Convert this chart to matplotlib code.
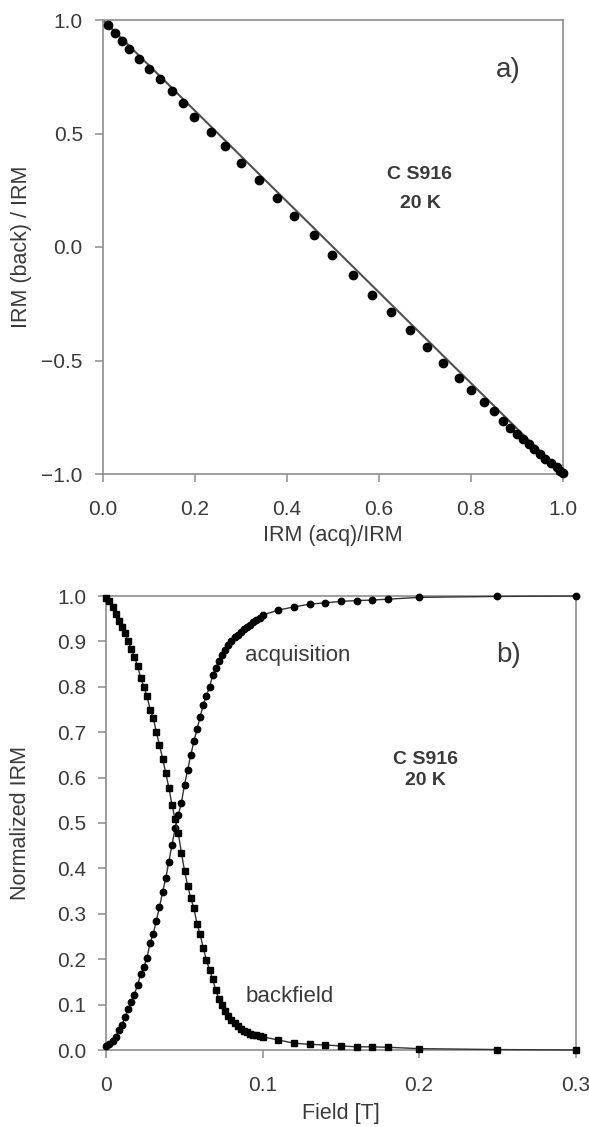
import matplotlib.pyplot as plt

plt.rcParams['font.family'] = ['Liberation Sans', 'DejaVu Sans']

# panel a) - backfield vs acquisition (Henkel plot)
henkel_acq = [0.0115, 0.026, 0.042, 0.0565, 0.078, 0.100, 0.123, 0.151, 0.173, 0.197,
              0.234, 0.266, 0.300, 0.339, 0.378, 0.416, 0.459, 0.498, 0.544, 0.585,
              0.627, 0.668, 0.705, 0.740, 0.773, 0.799, 0.828, 0.849, 0.870, 0.885,
              0.900, 0.912, 0.925, 0.937, 0.949, 0.961, 0.974, 0.986, 0.994, 1.0]
henkel_back = [0.978, 0.941, 0.909, 0.871, 0.830, 0.786, 0.739, 0.689, 0.634, 0.572,
               0.508, 0.446, 0.371, 0.297, 0.216, 0.135, 0.051, -0.037, -0.122, -0.213,
               -0.287, -0.367, -0.440, -0.509, -0.575, -0.631, -0.682, -0.723, -0.766, -0.799,
               -0.824, -0.846, -0.868, -0.890, -0.912, -0.934, -0.952, -0.971, -0.985, -0.997]
# non-interacting reference line
ref_x = [0.0, 1.0]
ref_y = [1.0, -1.0]

# panel b) - normalized IRM curves vs field [T]
field = [0.000, 0.002, 0.004, 0.006, 0.008, 0.010, 0.012, 0.014, 0.016, 0.018,
         0.020, 0.022, 0.024, 0.026, 0.028, 0.030, 0.032, 0.034, 0.036, 0.038,
         0.040, 0.042, 0.044, 0.046, 0.048, 0.050, 0.052, 0.054, 0.056, 0.058,
         0.060, 0.062, 0.064, 0.066, 0.068, 0.070, 0.072, 0.074, 0.076, 0.078,
         0.080, 0.082, 0.084, 0.086, 0.088, 0.090, 0.092, 0.094, 0.096, 0.098,
         0.100, 0.110, 0.120, 0.130, 0.140, 0.150, 0.160, 0.170, 0.180, 0.200,
         0.250, 0.300]
acquisition = [0.008, 0.014, 0.020, 0.029, 0.043, 0.056, 0.072, 0.090, 0.106, 0.122,
               0.144, 0.167, 0.183, 0.203, 0.236, 0.256, 0.285, 0.315, 0.348, 0.378,
               0.415, 0.452, 0.488, 0.518, 0.544, 0.584, 0.617, 0.649, 0.680, 0.706,
               0.734, 0.760, 0.780, 0.800, 0.825, 0.842, 0.857, 0.870, 0.882, 0.892,
               0.901, 0.909, 0.915, 0.921, 0.927, 0.932, 0.937, 0.942, 0.947, 0.952,
               0.958, 0.969, 0.976, 0.982, 0.985, 0.988, 0.990, 0.991, 0.993, 0.997,
               0.999, 1.000]
backfield = [0.995, 0.988, 0.975, 0.960, 0.945, 0.932, 0.918, 0.900, 0.884, 0.865,
             0.846, 0.820, 0.800, 0.780, 0.750, 0.732, 0.700, 0.672, 0.642, 0.610,
             0.578, 0.540, 0.508, 0.478, 0.435, 0.395, 0.362, 0.335, 0.312, 0.278,
             0.255, 0.224, 0.198, 0.177, 0.156, 0.132, 0.112, 0.100, 0.087, 0.075,
             0.065, 0.059, 0.053, 0.047, 0.042, 0.039, 0.036, 0.034, 0.032, 0.030,
             0.029, 0.022, 0.015, 0.0125, 0.011, 0.009, 0.007, 0.007, 0.006, 0.003,
             0.001, 0.000]

txt = '#3a3a3a'
frame = '#8c8c8c'
W, H = 589.0, 1127.0

fig = plt.figure(figsize=(5.89, 11.27), dpi=100)
# axes boxes in pixels: panel a x 103-563, y 20-474 ; panel b x 106-575, y 596-1050
ax1 = fig.add_axes([103 / W, 1 - 474 / H, 460 / W, 454 / H])
ax2 = fig.add_axes([106.3 / W, 1 - 1050 / H, 469.2 / W, 454 / H])

for ax in (ax1, ax2):
    for s in ax.spines.values():
        s.set_color(frame)
        s.set_linewidth(1.2)
    ax.tick_params(direction='out', length=5.5, width=1.1, color=frame,
                   labelsize=15, labelcolor=txt)
    ax.tick_params(axis='x', pad=13)
    ax.tick_params(axis='y', pad=9)

# --- a) ---
ax1.plot(ref_x, ref_y, color='#505050', lw=1.5, zorder=2)
ax1.plot(henkel_acq, henkel_back, 'o', color='black', ms=6, zorder=3, clip_on=False)
ax1.set_xlim(0, 1)
ax1.set_ylim(-1, 1)
ax1.set_xticks([0, 0.2, 0.4, 0.6, 0.8, 1.0])
ax1.set_xticklabels(['0.0', '0.2', '0.4', '0.6', '0.8', '1.0'])
ax1.set_yticks([-1, -0.5, 0, 0.5, 1])
ax1.set_yticklabels(['\u22121.0', '\u22120.5', '0.0', '0.5', '1.0'])
fig.text((103 + 230) / W, 1 - 536 / H, 'IRM (acq)/IRM', fontsize=15.5, color=txt,
         ha='center', va='center')
fig.text(21 / W, 1 - 247 / H, 'IRM (back) / IRM', fontsize=15.5, color=txt,
         ha='center', va='center', rotation=90)
ax1.text(0.88, 0.78, 'a)', fontsize=20, color=txt, ha='center', va='center')
ax1.text(0.689, 0.318, 'C S916', fontsize=14, fontweight='bold', color=txt,
         ha='center', va='center')
ax1.text(0.689, 0.19, '20 K', fontsize=14, fontweight='bold', color=txt,
         ha='center', va='center')

# --- b) ---
ax2.plot(field, acquisition, '-o', color='#333333', lw=1.0, ms=4.6,
         mfc='black', mec='black', zorder=3, clip_on=False)
ax2.plot(field, backfield, '-s', color='#333333', lw=1.0, ms=5.0,
         mfc='black', mec='black', zorder=3, clip_on=False)
ax2.set_xlim(0, 0.3)
ax2.set_ylim(0, 1)
ax2.set_xticks([0, 0.1, 0.2, 0.3])
ax2.set_xticklabels(['0', '0.1', '0.2', '0.3'])
ax2.set_yticks([i / 10 for i in range(11)])
ax2.set_yticklabels(['%.1f' % (i / 10) for i in range(11)])
fig.text((106.3 + 234.6) / W, 1 - 1113 / H, 'Field [T]', fontsize=15.5, color=txt,
         ha='center', va='center')
fig.text(21 / W, 1 - 823 / H, 'Normalized IRM', fontsize=15.5, color=txt,
         ha='center', va='center', rotation=90)
ax2.text(0.257, 0.870, 'b)', fontsize=20, color=txt, ha='center', va='center')
ax2.text(0.0885, 0.870, 'acquisition', fontsize=16, color=txt, ha='left', va='center')
ax2.text(0.089, 0.117, 'backfield', fontsize=16, color=txt, ha='left', va='center')
ax2.text(0.204, 0.640, 'C S916', fontsize=14, fontweight='bold', color=txt,
         ha='center', va='center')
ax2.text(0.204, 0.593, '20 K', fontsize=14, fontweight='bold', color=txt,
         ha='center', va='center')

fig.savefig('out.png', dpi=100)
